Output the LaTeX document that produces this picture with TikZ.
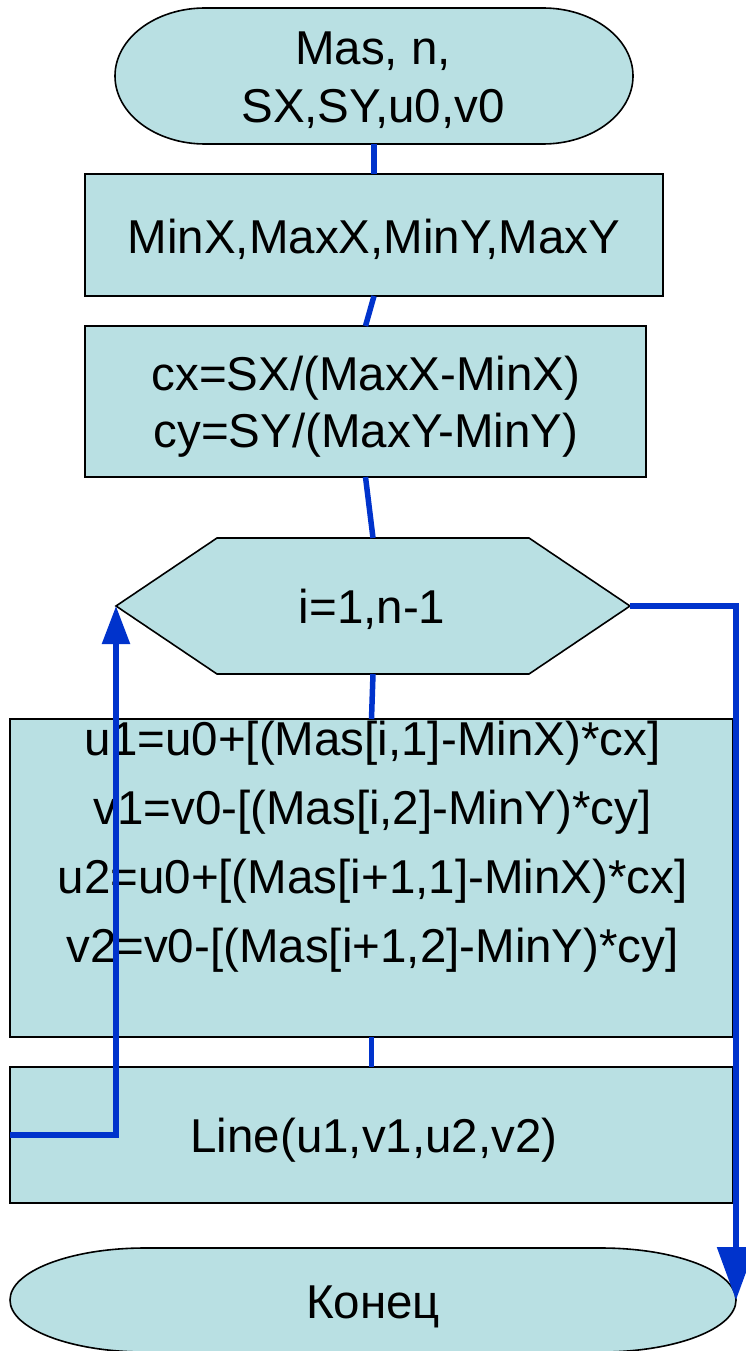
\documentclass[tikz,border=0pt]{standalone}
\usepackage{fontspec}
\setmainfont{Liberation Sans}
\usetikzlibrary{arrows.meta,calc}
\definecolor{boxfill}{RGB}{185,224,227}
\definecolor{flowblue}{RGB}{0,51,204}

\begin{document}
\begin{tikzpicture}[x=1pt,y=-1pt,
  txt/.style={font=\fontsize{47.5}{57}\selectfont, inner sep=0pt, anchor=base},
  frame/.style={rectangle, draw=none, inner sep=0pt, outer sep=0pt},
  procbox/.style={frame, draw=black, line width=1.6pt, fill=boxfill},
  outline/.style={draw=black, line width=1.6pt, fill=boxfill},
  flow/.style={draw=flowblue, line width=5.5pt},
  tipsmall/.style={-{Triangle[length=38pt,width=27pt]}},
  tipbig/.style={-{Triangle[length=53pt,width=37pt]}},
]
\useasboundingbox (0,0) rectangle (746,1351);

% ---- shapes ----
% start terminator (elliptic ends)
\node[frame, minimum width=518pt, minimum height=136pt] (start) at (374,76) {};
\path[outline] ($(start.north west)+(90,0)$) -- ($(start.north east)+(-90,0)$)
  arc[start angle=90, end angle=-90, x radius=90pt, y radius=68pt]
  -- ($(start.south west)+(90,0)$)
  arc[start angle=270, end angle=90, x radius=90pt, y radius=68pt] -- cycle;

\node[procbox, minimum width=578pt, minimum height=122pt] (minmax) at (374,235) {};
\node[procbox, minimum width=561pt, minimum height=151pt] (scale) at (365.5,401.5) {};

% loop header (hexagon)
\node[frame, minimum width=514pt, minimum height=136pt] (loop) at (373,606) {};
\path[outline] (loop.west) -- ($(loop.north west)+(101,0)$) -- ($(loop.north east)+(-101,0)$)
  -- (loop.east) -- ($(loop.south east)+(-101,0)$) -- ($(loop.south west)+(101,0)$) -- cycle;

\node[procbox, minimum width=723pt, minimum height=318pt] (calc) at (371.5,878) {};
\node[procbox, minimum width=723pt, minimum height=136pt] (line) at (371.5,1135) {};

% end terminator
\node[frame, minimum width=726pt, minimum height=104pt] (stop) at (373,1300) {};
\path[outline] ($(stop.north west)+(135,0)$) -- ($(stop.north east)+(-135,0)$)
  arc[start angle=90, end angle=-90, x radius=135pt, y radius=52pt]
  -- ($(stop.south west)+(135,0)$)
  arc[start angle=270, end angle=90, x radius=135pt, y radius=52pt] -- cycle;

% ---- texts ----
\node[txt] (start-a) at (373,65) {Mas, n,};
\node[txt] (start-b) at (373,123) {SX,SY,u0,v0};
\node[txt] (minmax-t) at (374,253) {MinX,MaxX,MinY,MaxY};
\node[txt] (scale-a) at (366,390) {cx=SX/(MaxX-MinX)};
\node[txt] (scale-b) at (366,447) {cy=SY/(MaxY-MinY)};
\node[txt] (loop-t) at (372,623) {i=1,n-1};
\node[txt] (calc-a) at (372.5,755) {u1=u0+[(Mas[i,1]-MinX)*cx]};
\node[txt] (calc-b) at (372.5,824) {v1=v0-[(Mas[i,2]-MinY)*cy]};
\node[txt] (calc-c) at (372.5,893) {u2=u0+[(Mas[i+1,1]-MinX)*cx]};
\node[txt] (calc-d) at (372.5,962) {v2=v0-[(Mas[i+1,2]-MinY)*cy]};
\node[txt] (line-t) at (374,1152) {Line(u1,v1,u2,v2)};
\node[txt] (stop-t) at (373,1318) {Конец};

% ---- connectors ----
\draw[flow] (start.south) -- (minmax.north);
\draw[flow] (minmax.south) -- (scale.north);
\draw[flow] (scale.south) -- (loop.north);
\draw[flow] (loop.south) -- (calc.north);
\draw[flow] (calc.south) -- (line.north);
\draw[flow, tipsmall] (line.west) -| (loop.west);
\draw[flow, tipbig] (loop.east) -| (stop.east);
\end{tikzpicture}
\end{document}
